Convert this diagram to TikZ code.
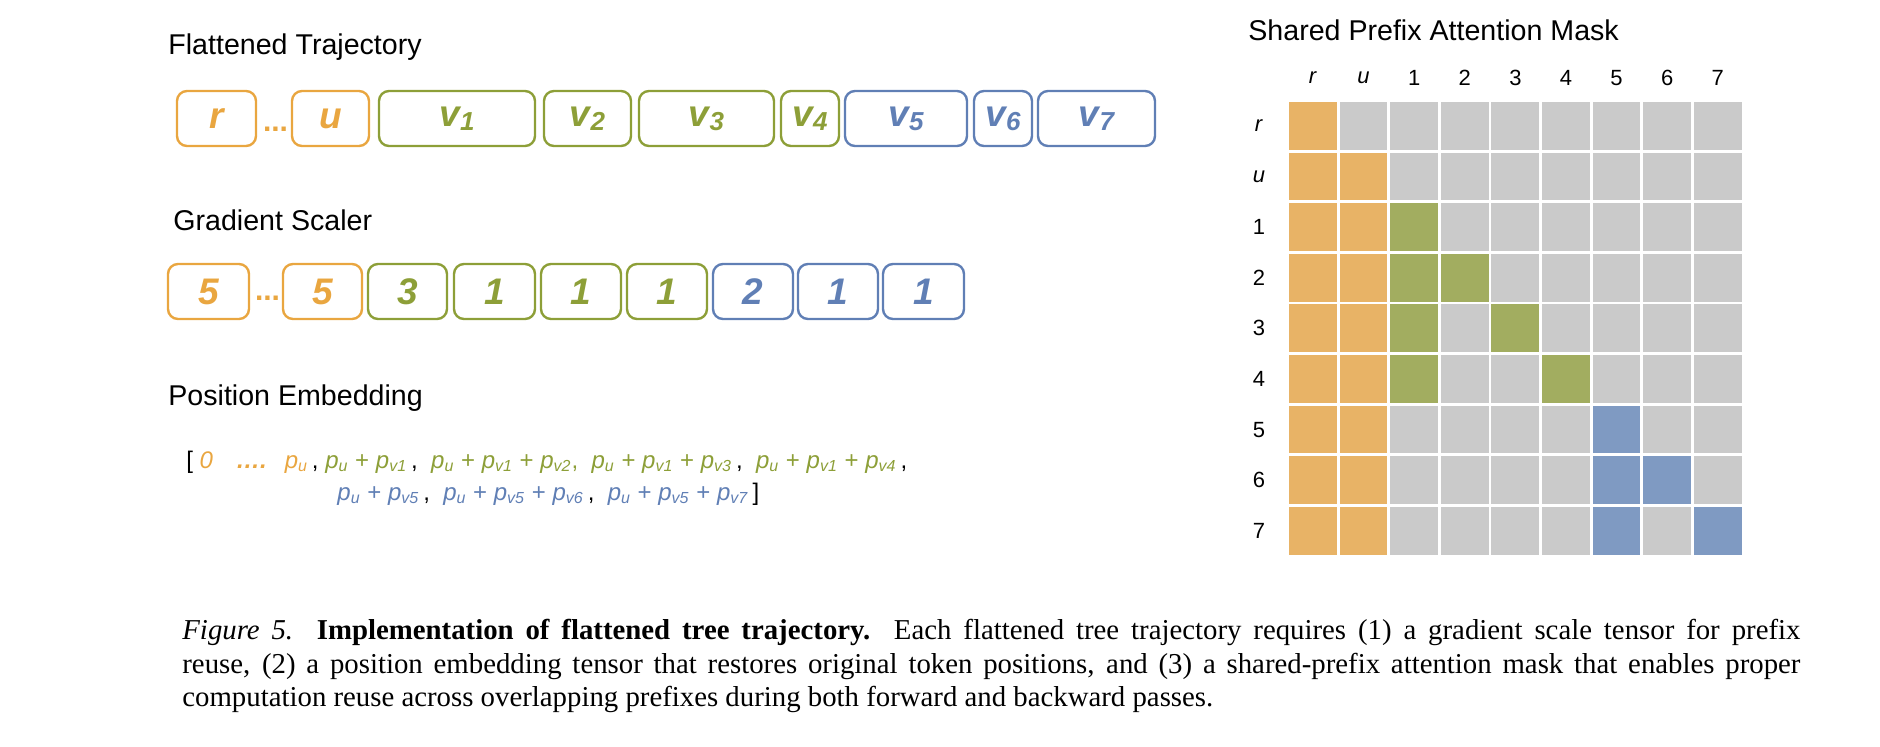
\documentclass[tikz,border=0pt]{standalone}
\usepackage{fontspec}
\setmainfont{Liberation Sans}
\newfontfamily\capfont{Liberation Serif}
\definecolor{tkorange}{RGB}{233,166,64}
\definecolor{tkgreen}{RGB}{141,159,56}
\definecolor{tkblue}{RGB}{96,127,181}
\definecolor{mo}{RGB}{232,179,102}
\definecolor{mx}{RGB}{202,202,202}
\definecolor{mg}{RGB}{162,173,96}
\definecolor{mb}{RGB}{127,154,194}
\newcommand{\vsub}[1]{v\raisebox{-2pt}{\fontsize{13}{13}\selectfont #1}}
\newcommand{\pp}[1]{\textit{p}\textsubscript{\textit{#1}}}
\tikzset{
  tok/.style={draw, rounded corners=5pt, line width=1.2pt, minimum height=27.5pt, inner sep=0pt,
    font=\fontsize{18.5}{18.5}\selectfont\bfseries\itshape},
  otok/.style={tok, draw=tkorange, text=tkorange},
  gtok/.style={tok, draw=tkgreen, text=tkgreen},
  btok/.style={tok, draw=tkblue, text=tkblue},
  tokdots/.style={inner sep=0pt, text=tkorange, font=\fontsize{15}{15}\selectfont\bfseries},
  title/.style={anchor=west, inner sep=0pt, font=\fontsize{14.3}{16}\selectfont},
  masklab/.style={inner sep=0pt, font=\fontsize{11}{12}\selectfont},
  posline/.style={anchor=west, inner sep=0pt, font=\fontsize{12}{14}\selectfont}
}
\begin{document}
\begin{tikzpicture}[x=0.5pt, y=-0.5pt]
\useasboundingbox (0,0) rectangle (1880,746);
% Flattened trajectory
\node[title] (trajtitle) at (168,47) {Flattened Trajectory};
\node[otok, minimum width=39.5pt] (tr) at (216.5,118.5) {r};
\node[tokdots] (tdots) at (275.5,129) {...};
\node[otok, minimum width=38.5pt] (tu) at (330.5,118.5) {u};
\node[gtok, minimum width=78pt] (tv1) at (457,118.5) {\vsub{1}};
\node[gtok, minimum width=43.5pt] (tv2) at (587.5,118.5) {\vsub{2}};
\node[gtok, minimum width=67.5pt] (tv3) at (706.5,118.5) {\vsub{3}};
\node[gtok, minimum width=29pt] (tv4) at (810,118.5) {\vsub{4}};
\node[btok, minimum width=61pt] (tv5) at (906,118.5) {\vsub{5}};
\node[btok, minimum width=29pt] (tv6) at (1003,118.5) {\vsub{6}};
\node[btok, minimum width=58.5pt] (tv7) at (1096.5,118.5) {\vsub{7}};
% Gradient scaler
\node[title] (gradtitle) at (173,220) {Gradient Scaler};
\node[otok, minimum width=40.5pt] (g1) at (208.5,291.5) {5};
\node[tokdots] (gdots) at (267.5,298) {...};
\node[otok, minimum width=39.5pt] (g2) at (322.5,291.5) {5};
\node[gtok, minimum width=39.5pt] (g3) at (407.5,291.5) {3};
\node[gtok, minimum width=40.5pt] (g4) at (494.5,291.5) {1};
\node[gtok, minimum width=40pt] (g5) at (581,291.5) {1};
\node[gtok, minimum width=40pt] (g6) at (667,291.5) {1};
\node[btok, minimum width=40pt] (g7) at (753,291.5) {2};
\node[btok, minimum width=40pt] (g8) at (838,291.5) {1};
\node[btok, minimum width=40.5pt] (g9) at (923.5,291.5) {1};
% Position embedding
\node[title] (postitle) at (168,398) {Position Embedding};
\node[posline] (pe1) at (186,462)
  {[\ {\color{tkorange}\textit{0}\hspace{11.5pt}\textbf{\textit{\dots.}}\hspace{9pt}\pp{u}}\,,
   {\color{tkgreen}\pp{u} + \pp{v1}}\,,\ \
   {\color{tkgreen}\pp{u} + \pp{v1} + \pp{v2},}\ \
   {\color{tkgreen}\pp{u} + \pp{v1} + \pp{v3}}\,,\ \
   {\color{tkgreen}\pp{u} + \pp{v1} + \pp{v4}}\,,};
\node[posline] (pe2) at (337,494)
  {{\color{tkblue}\pp{u} + \pp{v5}}\,,\ \
   {\color{tkblue}\pp{u} + \pp{v5} + \pp{v6}}\,,\ \
   {\color{tkblue}\pp{u} + \pp{v5} + \pp{v7}}\,]};
% Shared prefix attention mask
\node[title] (masktitle) at (1248,30) {Shared Prefix Attention Mask};
\foreach \lab [count=\c from 0] in {\textit{r},\textit{u},1,2,3,4,5,6,7} {
  \node[masklab] (col-\c) at ({1313+50.6*\c},78) {\lab};
  \node[masklab] (row-\c) at (1259,{126+50.6*\c}) {\lab};
}
\foreach \rw/\cells in {0/{o,x,x,x,x,x,x,x,x}, 1/{o,o,x,x,x,x,x,x,x}, 2/{o,o,g,x,x,x,x,x,x},
  3/{o,o,g,g,x,x,x,x,x}, 4/{o,o,g,x,g,x,x,x,x}, 5/{o,o,g,x,x,g,x,x,x},
  6/{o,o,x,x,x,x,b,x,x}, 7/{o,o,x,x,x,x,b,b,x}, 8/{o,o,x,x,x,x,b,x,b}} {
  \foreach \cl [count=\c from 0] in \cells
    \fill[fill=m\cl] ({1289+50.6*\c},{102+50.6*\rw}) rectangle +(47.8,47.8);
}
% Caption
\node[anchor=north west, inner sep=0pt, text width=809pt, align=justify,
  font=\capfont\fontsize{14.4}{16.7}\selectfont] (caption) at (182,619)
  {\textit{Figure 5.} \textbf{Implementation of flattened tree trajectory.}\ \ Each flattened tree trajectory requires (1) a gradient scale tensor for prefix\linebreak
   reuse, (2) a position embedding tensor that restores original token positions, and (3) a shared-prefix attention mask that enables proper\linebreak
   computation reuse across overlapping prefixes during both forward and backward passes.};
\end{tikzpicture}
\end{document}
